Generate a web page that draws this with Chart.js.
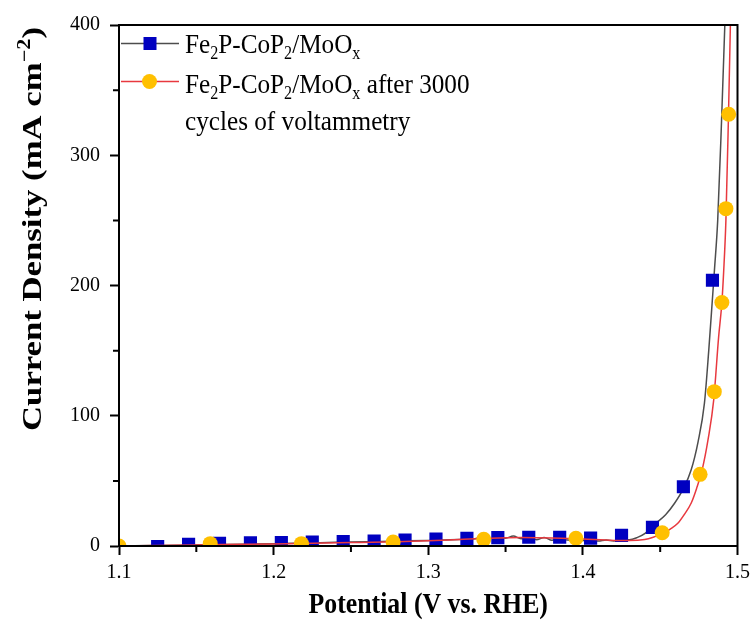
<!DOCTYPE html>
<html>
<head>
<meta charset="utf-8">
<script src="https://cdn.jsdelivr.net/npm/chart.js@4.4.0/dist/chart.umd.min.js"></script>
<style>
  html, body { margin: 0; padding: 0; background: #fff; }
  #wrap { position: relative; width: 756px; height: 644px; }
</style>
</head>
<body>
<div id="wrap"><canvas id="myChart"></canvas></div>
<script>
// potential (V vs. RHE) -> current density (mA cm-2)
var lineV1 = [1.100, 1.120, 1.140, 1.160, 1.180, 1.200, 1.220, 1.240, 1.260, 1.280, 1.300, 1.310, 1.320, 1.330,
  1.335, 1.340, 1.345, 1.350, 1.355, 1.360, 1.365, 1.370, 1.375, 1.380, 1.385, 1.390,
  1.400, 1.410, 1.415, 1.420, 1.425, 1.430, 1.435, 1.440,
  1.4473, 1.4535, 1.4593, 1.4650, 1.4700, 1.4745, 1.4786, 1.4814, 1.4838, 1.4851, 1.4872, 1.4897, 1.4918];
var lineJ1 = [0.0, 0.3, 0.6, 1.0, 1.4, 1.8, 2.3, 2.8, 3.3, 3.8, 4.3, 4.7, 5.0, 5.6,
  6.6, 5.4, 7.0, 6.0, 7.6, 5.6, 6.8, 4.8, 6.6, 4.4, 5.6, 4.6,
  4.2, 3.8, 4.6, 3.9, 5.2, 4.8, 6.4, 9.5,
  17.6, 24.0, 32.8, 44.0, 58.3, 80.0, 109.5, 150.0, 190.0, 212.0, 250.0, 327.0, 400.0];
var markV1 = [1.125, 1.145, 1.165, 1.185, 1.205, 1.225, 1.245, 1.265, 1.285, 1.305, 1.325, 1.345, 1.365, 1.385,
  1.405, 1.425, 1.445, 1.465, 1.4838];
var markJ1 = [-0.5, 1.2, 2.0, 2.5, 2.7, 3.0, 3.4, 3.8, 4.5, 5.3, 5.9, 6.4, 6.7, 6.7,
  6.1, 8.2, 14.3, 45.5, 204.0];

var lineV2 = [1.100, 1.150, 1.200, 1.250, 1.280, 1.300, 1.320, 1.340, 1.360, 1.380,
  1.400, 1.420, 1.430, 1.440, 1.445, 1.4517, 1.4565, 1.4614, 1.4655, 1.4700,
  1.4735, 1.4771, 1.4810, 1.4846, 1.4878, 1.4899, 1.4910, 1.4925, 1.4941, 1.4954];
var lineJ2 = [0.0, 0.8, 1.6, 2.6, 3.3, 4.0, 5.0, 6.0, 6.5, 6.2,
  5.3, 4.3, 4.2, 5.0, 6.5, 9.7, 13.0, 17.4, 24.0, 32.8,
  44.0, 58.3, 82.0, 112.0, 160.6, 187.0, 209.5, 250.0, 327.0, 400.0];
var markV2 = [1.100, 1.159, 1.218, 1.2773, 1.3359, 1.3955, 1.4513, 1.4758, 1.4850, 1.4899, 1.4925, 1.4943, 1.4957];
var markJ2 = [0.0, 1.8, 1.8, 3.0, 5.1, 5.9, 10.2, 55.0, 118.5, 187.0, 259.0, 331.5, 405.0];

var xTicks = [1.1, 1.2, 1.3, 1.4, 1.5];
var xMinor = [1.15, 1.25, 1.35, 1.45];
var yTicks = [0, 100, 200, 300, 400];
var yMinor = [50, 150, 250, 350];

// rich text pieces: 0 normal, 1 subscript, 2 superscript
var name1 = [['Fe', 0], ['2', 1], ['P-CoP', 0], ['2', 1], ['/MoO', 0], ['x', 1]];
var name2 = name1.concat([[' after 3000', 0]]);
var name2b = [['cycles of voltammetry', 0]];
var xTitle = [['Potential (V vs. RHE)', 0]];
var yTitle = [['Current Density (mA cm', 0], ['\u22122', 2], [')', 0]];

var FAM = "'Liberation Serif', 'Times New Roman', serif";
var GRAY = '#4d4d4d', RED = '#e8393f', BLUE = '#0000c0', GOLD = '#ffc000';

function pts(xs, ys) {
  return xs.map(function(x, i) { return { x: x, y: ys[i] }; });
}

function fontFor(size, weight, mode) {
  var s = mode ? size * 0.64 : size;
  return weight + ' ' + s + 'px ' + FAM;
}

function richWidth(ctx, parts, size, weight) {
  var w = 0;
  parts.forEach(function(p) {
    ctx.font = fontFor(size, weight, p[1]);
    w += ctx.measureText(p[0]).width;
  });
  return w;
}

function drawRich(ctx, parts, x, y, size, weight) {
  parts.forEach(function(p) {
    ctx.font = fontFor(size, weight, p[1]);
    var dy = p[1] == 1 ? size * 0.22 : (p[1] == 2 ? -size * 0.38 : 0);
    ctx.fillText(p[0], x, y + dy);
    x += ctx.measureText(p[0]).width;
  });
}

var extras = {
  id: 'extras',
  afterDraw: function(chart) {
    var ctx = chart.ctx, a = chart.chartArea;
    var xs = chart.scales.x, ys = chart.scales.y;
    ctx.save();
    ctx.strokeStyle = '#000';
    ctx.lineWidth = 2;
    ctx.strokeRect(a.left, a.top, a.right - a.left, a.bottom - a.top);

    // minor ticks
    ctx.beginPath();
    xMinor.forEach(function(v) {
      var px = xs.getPixelForValue(v);
      ctx.moveTo(px, a.bottom); ctx.lineTo(px, a.bottom + 6);
    });
    yMinor.forEach(function(v) {
      var py = ys.getPixelForValue(v);
      ctx.moveTo(a.left, py); ctx.lineTo(a.left - 6, py);
    });
    ctx.stroke();

    // legend
    ctx.lineWidth = 1.5;
    ctx.strokeStyle = GRAY;
    ctx.beginPath(); ctx.moveTo(121, 43.5); ctx.lineTo(179, 43.5); ctx.stroke();
    ctx.fillStyle = BLUE;
    ctx.fillRect(143.5, 37, 13, 13);
    ctx.strokeStyle = RED;
    ctx.beginPath(); ctx.moveTo(121, 81.5); ctx.lineTo(179, 81.5); ctx.stroke();
    ctx.fillStyle = GOLD;
    ctx.beginPath(); ctx.arc(149.5, 81.5, 7.5, 0, Math.PI * 2); ctx.fill();

    ctx.fillStyle = '#000';
    ctx.textBaseline = 'alphabetic';
    ctx.textAlign = 'left';
    [[name1, 53], [name2, 93], [name2b, 130]].forEach(function(r) {
      ctx.save();
      ctx.translate(185, r[1]);
      ctx.scale(0.9, 1);
      drawRich(ctx, r[0], 0, 0, 28, 'normal');
      ctx.restore();
    });

    // x title
    var w = richWidth(ctx, xTitle, 29, 'bold');
    ctx.save();
    ctx.translate((a.left + a.right) / 2, 613);
    ctx.scale(0.89, 1);
    drawRich(ctx, xTitle, -w / 2, 0, 29, 'bold');
    ctx.restore();

    // y title
    w = richWidth(ctx, yTitle, 28, 'bold');
    ctx.save();
    ctx.translate(41, 229);
    ctx.rotate(-Math.PI / 2);
    ctx.scale(404 / w, 1);
    drawRich(ctx, yTitle, -w / 2, 0, 28, 'bold');
    ctx.restore();

    ctx.restore();
  }
};

Chart.defaults.font.family = FAM;
Chart.defaults.color = '#000';

var ctx = document.getElementById('myChart').getContext('2d');
var myChart = new Chart(ctx, {
  type: 'scatter',
  data: {
    datasets: [{
      label: 'line1',
      data: pts(lineV1, lineJ1),
      showLine: true,
      borderColor: GRAY,
      borderWidth: 1.5,
      pointRadius: 0,
      cubicInterpolationMode: 'monotone',
      order: 4
    }, {
      label: 'marks1',
      data: pts(markV1, markJ1),
      pointStyle: 'rect',
      pointRadius: 9.3,
      backgroundColor: BLUE,
      borderWidth: 0,
      clip: 0,
      order: 3
    }, {
      label: 'line2',
      data: pts(lineV2, lineJ2),
      showLine: true,
      borderColor: RED,
      borderWidth: 1.5,
      pointRadius: 0,
      cubicInterpolationMode: 'monotone',
      order: 2
    }, {
      label: 'marks2',
      data: pts(markV2, markJ2),
      pointStyle: 'circle',
      pointRadius: 7.5,
      backgroundColor: GOLD,
      borderWidth: 0,
      clip: 0,
      order: 1
    }]
  },
  options: {
    responsive: true,
    maintainAspectRatio: false,
    animation: false,
    devicePixelRatio: 1,
    layout: { padding: { top: 25, right: 17, left: 0, bottom: 0 } },
    plugins: { legend: { display: false }, tooltip: { enabled: false } },
    scales: {
      x: {
        type: 'linear',
        min: 1.1,
        max: 1.5,
        afterBuildTicks: function(s) { s.ticks = xTicks.map(function(v) { return { value: v }; }); },
        afterFit: function(s) { s.height = 98; },
        ticks: {
          font: { size: 20 },
          padding: 6,
          maxRotation: 0,
          callback: function(v) { return v.toFixed(1); }
        },
        grid: { drawOnChartArea: false, tickLength: 9, tickWidth: 2, tickColor: '#000' },
        border: { display: true, color: '#000', width: 2 }
      },
      y: {
        type: 'linear',
        min: 0,
        max: 400,
        afterBuildTicks: function(s) { s.ticks = yTicks.map(function(v) { return { value: v }; }); },
        afterFit: function(s) { s.width = 119; },
        ticks: {
          font: { size: 20 },
          padding: 10,
          callback: function(v) { return String(v); }
        },
        grid: { drawOnChartArea: false, tickLength: 9, tickWidth: 2, tickColor: '#000' },
        border: { display: true, color: '#000', width: 2 }
      }
    }
  },
  plugins: [extras]
});
</script>
</body>
</html>
